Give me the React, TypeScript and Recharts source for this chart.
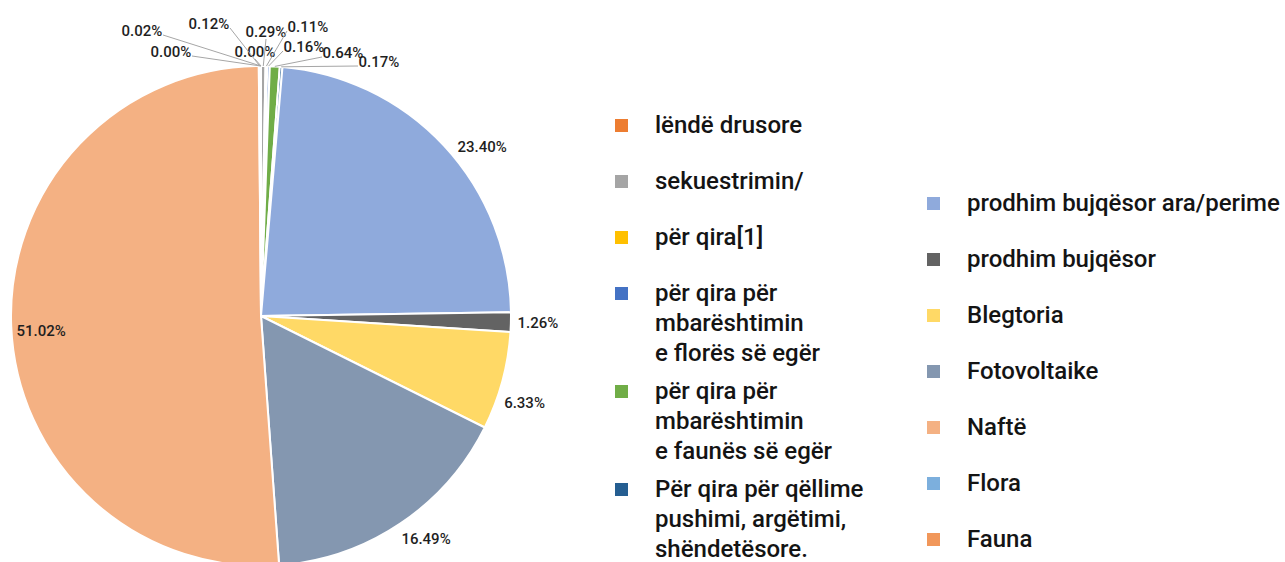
import React from "react";
import { PieChart, Pie, Cell, Legend } from "recharts";

// slice names, in the order of the legend (clockwise from 12 o'clock)
const CATEGORIES = [
  "lëndë drusore",
  "sekuestrimin/",
  "për qira[1]",
  "për qira për\nmbarështimin\ne florës së egër",
  "për qira për\nmbarështimin\ne faunës së egër",
  "Për qira për qëllime\npushimi, argëtimi,\nshëndetësore.",
  "prodhim bujqësor ara/perime",
  "prodhim bujqësor",
  "Blegtoria",
  "Fotovoltaike",
  "Naftë",
  "Flora",
  "Fauna",
  "", // last legend row is cut off in the source
];

// share of each category, %
const SHARES = [0.0, 0.29, 0.11, 0.16, 0.64, 0.17, 23.4, 1.26, 6.33, 16.49, 51.02, 0.12, 0.0, 0.02];

const COLORS = [
  "#ED7D31", "#A5A5A5", "#FFC000", "#4472C4", "#70AD47", "#255E91",
  "#8FAADC", "#636363", "#FFD966", "#8497B0", "#F4B183", "#7CAFDD",
  "#F1975A", "#A9D18E",
];

// which legend rows go in which column
const LEGEND_LEFT = [0, 1, 2, 3, 4, 5];
const LEGEND_RIGHT = [6, 7, 8, 9, 10, 11, 12];

// hand-placed spots (relative to pie centre) for the crowded tiny-slice labels at the top
const SMALL_LABEL_SPOTS: Record<number, [number, number]> = {
  0: [-6, -264],
  1: [5, -284],
  2: [47, -289],
  3: [43, -269],
  4: [82, -263],
  5: [118, -254],
  11: [-52, -292],
  12: [-90, -264],
  13: [-119, -285],
};

// sideways (clockwise, px) shift of the outside labels, like Excel's "best fit"
const LABEL_SHIFT: Record<number, number> = { 6: 27, 8: 15, 9: -13 };

const data = CATEGORIES.map((name, i) => ({ name, value: SHARES[i] }));

const FONT = "Roboto, 'Noto Sans', sans-serif";
const RAD = Math.PI / 180;

function renderLabel(props: any) {
  const { cx, cy, midAngle, outerRadius, index, value } = props;
  const text = `${Number(value).toFixed(2)}%`;
  const ux = Math.cos(-midAngle * RAD);
  const uy = Math.sin(-midAngle * RAD);
  const style = { fontFamily: FONT, fontSize: 15, fontWeight: 500, fill: "#1f1f1f" };
  const spot = SMALL_LABEL_SPOTS[index];

  if (spot) {
    const tx = cx + spot[0];
    const ty = cy + spot[1];
    const px = cx + outerRadius * ux;
    const py = cy + outerRadius * uy;
    const halfW = 20;
    let ax = tx, ay = ty + 7;
    if (tx - halfW > px) { ax = tx - halfW - 1; ay = ty + 4; }
    else if (tx + halfW < px) { ax = tx + halfW + 1; ay = ty + 4; }
    return (
      <g key={`lbl-${index}`}>
        <polyline points={`${ax},${ay} ${px},${py}`} stroke="#A6A6A6" strokeWidth={1} fill="none" />
        <text x={tx} y={ty} textAnchor="middle" dominantBaseline="central" style={style}>{text}</text>
      </g>
    );
  }

  if (value > 30) {
    // big slice: label sits inside, near the rim
    const r = outerRadius * 0.88;
    return (
      <text key={`lbl-${index}`} x={cx + r * ux} y={cy + r * uy + 6} textAnchor="middle"
        dominantBaseline="central" style={style}>{text}</text>
    );
  }

  const r = outerRadius + 27;
  const s = LABEL_SHIFT[index] ?? 0;
  // clockwise tangent on screen is (-uy, ux)
  const x = cx + r * ux - s * uy;
  const y = cy + r * uy + s * ux;
  return (
    <text key={`lbl-${index}`} x={x} y={y} textAnchor="middle" dominantBaseline="central" style={style}>
      {text}
    </text>
  );
}

function LegendRow({ i }: { i: number }) {
  const lines = CATEGORIES[i].split("\n").length;
  return (
    <div style={{ display: "flex", alignItems: "flex-start", marginBottom: lines > 1 ? 8 : 26 }}>
      <div style={{ width: 13, height: 13, background: COLORS[i], marginTop: 9, flexShrink: 0 }} />
      <div style={{ marginLeft: 27, whiteSpace: "pre", lineHeight: "30px" }}>{CATEGORIES[i]}</div>
    </div>
  );
}

function TwoColumnLegend() {
  const common: React.CSSProperties = {
    position: "absolute",
    fontFamily: FONT,
    fontSize: 24,
    fontWeight: 500,
    color: "#141414",
  };
  return (
    <div style={{ position: "relative", width: 1285, height: 562 }}>
      <div style={{ ...common, left: 615, top: 110 }}>
        {LEGEND_LEFT.map((i) => <LegendRow key={i} i={i} />)}
      </div>
      <div style={{ ...common, left: 927, top: 188 }}>
        {LEGEND_RIGHT.map((i) => <LegendRow key={i} i={i} />)}
      </div>
    </div>
  );
}

export default function App() {
  return (
    <div style={{ position: "absolute", left: 0, top: 0, width: 1285, height: 562, overflow: "hidden", background: "#fff" }}>
      <PieChart width={1285} height={562} margin={{ top: 0, right: 0, bottom: 0, left: 0 }}>
        <Pie
          data={data}
          dataKey="value"
          nameKey="name"
          cx={261}
          cy={316}
          outerRadius={250}
          startAngle={90}
          endAngle={-270}
          stroke="#fff"
          strokeWidth={2}
          label={renderLabel}
          labelLine={false}
          isAnimationActive={false}
        >
          {data.map((d, i) => <Cell key={d.name + i} fill={COLORS[i]} />)}
        </Pie>
        <Legend
          content={<TwoColumnLegend />}
          wrapperStyle={{ position: "absolute", left: 0, top: 0, width: 1285, height: 562, pointerEvents: "none" }}
        />
      </PieChart>
    </div>
  );
}
